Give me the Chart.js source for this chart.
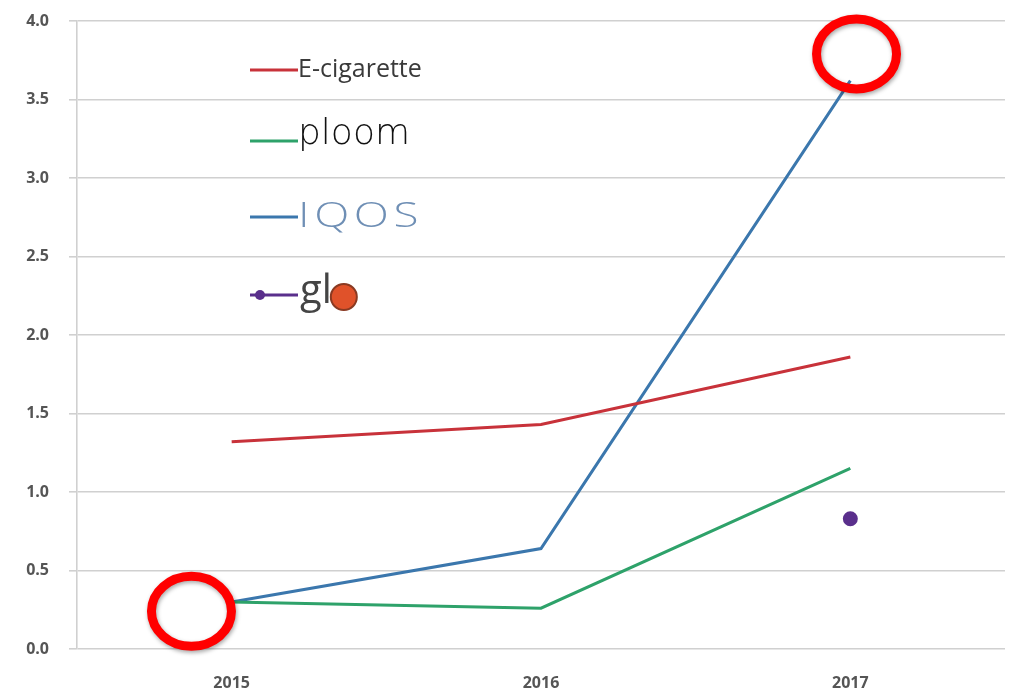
<!DOCTYPE html>
<html><head><meta charset="utf-8">
<script src="https://cdn.jsdelivr.net/npm/chart.js@4/dist/chart.umd.min.js"></script>
<style>html,body{margin:0;padding:0;background:#fff}#wrap{width:1018px;height:693px;position:relative}</style>
</head><body><div id="wrap"><canvas id="c" width="1018" height="693"></canvas></div>
<script>
const categories = ['2015', '2016', '2017'];
const eCigarette = [1.32, 1.43, 1.86];
const ploom = [0.30, 0.26, 1.15];
const iqos = [0.30, 0.64, 3.62];
const glo = [null, null, 0.83];
const yTicks = [0, 0.5, 1, 1.5, 2, 2.5, 3, 3.5, 4];
const seriesNames = ['E-cigarette', 'ploom', 'IQOS', 'glo'];
// annotation circles: [category index (fractional), value]
const highlightCircles = [[-0.13, 0.24], [2.02, 3.79]];

const colors = ['#c8323a', '#2ea26a', '#3b77ad', '#5a2f8c'];

const legendPlugin = {
  id: 'customLegend',
  afterDraw(chart) {
    const ctx = chart.ctx;
    ctx.save();
    const items = [
      {y: 70, c: colors[0]},
      {y: 141, c: colors[1]},
      {y: 217, c: colors[2]},
      {y: 295, c: colors[3], dot: true}
    ];
    items.forEach((it) => {
      ctx.strokeStyle = it.c; ctx.lineWidth = 3;
      ctx.beginPath(); ctx.moveTo(250, it.y); ctx.lineTo(298, it.y); ctx.stroke();
      if (it.dot) { ctx.fillStyle = it.c; ctx.beginPath(); ctx.arc(260, it.y, 5, 0, Math.PI*2); ctx.fill(); }
    });
    ctx.textBaseline = 'middle'; ctx.textAlign = 'left';
    ctx.fillStyle = '#3a3a3a';
    ctx.font = '25px "Open Sans"';
    ctx.fillText(seriesNames[0], 298, 70);
    ctx.fillStyle = '#111';
    ctx.font = '300 36px "DejaVu Sans"';
    ctx.fillText(seriesNames[1], 298, 135);
    ctx.fillStyle = '#6f8fb5';
    ctx.font = '300 34px "Open Sans"';
    ctx.save(); ctx.translate(298, 217); ctx.scale(1.35, 1);
    ctx.fillText(seriesNames[2].split('').join('\u200A'), 0, 0);
    ctx.restore();
    ctx.fillStyle = '#444';
    ctx.font = '40px "Open Sans"';
    ctx.fillText(seriesNames[3].slice(0, 2), 300, 292);
    const gw = ctx.measureText(seriesNames[3].slice(0, 2)).width;
    ctx.fillStyle = '#e0522a';
    ctx.strokeStyle = '#8a3a22'; ctx.lineWidth = 2;
    ctx.beginPath(); ctx.arc(300 + gw + 12, 297, 13, 0, Math.PI*2); ctx.fill(); ctx.stroke();
    ctx.restore();
  }
};

const circlePlugin = {
  id: 'circles',
  afterDraw(chart) {
    const ctx = chart.ctx, xs = chart.scales.x, ys = chart.scales.y;
    ctx.save();
    ctx.strokeStyle = '#ff0000'; ctx.lineWidth = 9;
    ctx.shadowColor = 'rgba(0,0,0,0.35)'; ctx.shadowBlur = 4; ctx.shadowOffsetX = 1; ctx.shadowOffsetY = 2;
    highlightCircles.forEach(([ci, v]) => {
      const px = xs.getPixelForValue(ci), py = ys.getPixelForValue(v);
      ctx.beginPath(); ctx.ellipse(px, py, 40, 35, 0, 0, Math.PI*2); ctx.stroke();
    });
    ctx.restore();
  }
};

new Chart(document.getElementById('c'), {
  type: 'line',
  data: {
    labels: categories,
    datasets: [
      {label: seriesNames[0], data: eCigarette, borderColor: colors[0], backgroundColor: colors[0], borderWidth: 3, pointRadius: 0, tension: 0},
      {label: seriesNames[1], data: ploom, borderColor: colors[1], backgroundColor: colors[1], borderWidth: 3, pointRadius: 0, tension: 0},
      {label: seriesNames[2], data: iqos, borderColor: colors[2], backgroundColor: colors[2], borderWidth: 3, pointRadius: 0, tension: 0},
      {label: seriesNames[3], data: glo, borderColor: colors[3], backgroundColor: colors[3], borderWidth: 3, pointRadius: 6, showLine: false}
    ]
  },
  options: {
    responsive: false, animation: false,
    layout: {padding: {top: 21, right: 13, left: 0, bottom: 0}},
    plugins: {legend: {display: false}, tooltip: {enabled: false}},
    scales: {
      x: {
        offset: true,
        grid: {display: false, drawTicks: false},
        border: {display: false},
        ticks: {color: '#555', font: {family: 'Open Sans', size: 16, weight: 'bold'}, padding: 25},
        afterFit(s) { s.height = 44; }
      },
      y: {
        min: 0, max: 4,
        afterBuildTicks(s) { s.ticks = yTicks.map(v => ({value: v})); },
        grid: {color: '#d0d0d0', lineWidth: 1.6, tickLength: 8},
        border: {display: true, color: '#d0d0d0', width: 1.6},
        ticks: {color: '#555', font: {family: 'Open Sans', size: 16, weight: 'bold'}, padding: 20,
          callback: v => Number(v).toFixed(1)},
        afterFit(s) { s.width = 77; s.paddingTop = 10; s.paddingBottom = 10; }
      }
    }
  },
  plugins: [legendPlugin, circlePlugin]
});
</script></body></html>
